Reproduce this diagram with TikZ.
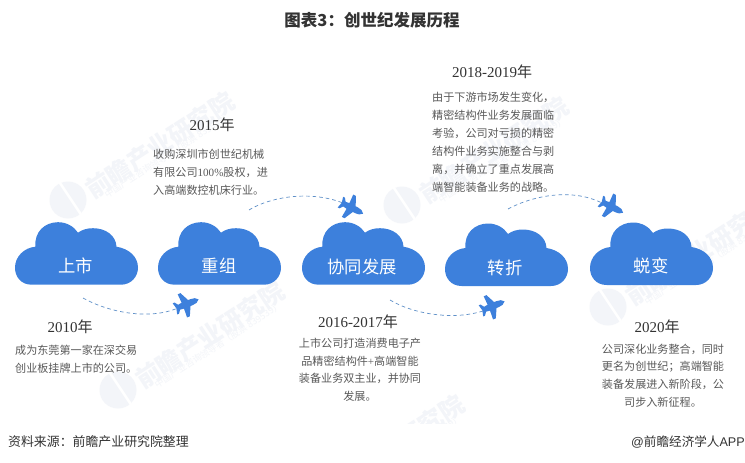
\documentclass[tikz,border=0pt]{standalone}
\usepackage{fontspec}
\setmainfont{Noto Sans CJK SC}
\newfontfamily\latf{Liberation Serif}
\newfontfamily\arialf{Liberation Sans}
\definecolor{cloudblue}{HTML}{3D80DC}
\definecolor{dashblue}{HTML}{5F90C8}
\definecolor{wm}{HTML}{F3F5F9}
\definecolor{bodygray}{HTML}{595959}
\definecolor{yeargray}{HTML}{333333}
\tikzset{
  cloudfill/.style={fill=cloudblue,draw=none},
  cloudlabel/.style={text=white,inner sep=0pt,font=\fontsize{17.3}{20}\selectfont},
  yearlabel/.style={text=yeargray,inner sep=0pt,font=\fontsize{15}{18}\selectfont},
  bodytext/.style={text=bodygray,inner sep=0pt,font=\fontsize{11.1}{17.9}\selectfont},
  flight/.style={draw=dashblue,line width=0.7pt,dash pattern=on 3.6pt off 3pt},
  planefill/.style={fill=cloudblue,draw=none},
  pics/cloudshape/.style={code={
    \fill[cloudfill] (16.7,0) .. controls (6,0) and (0,-8) .. (0,-17)
      .. controls (0,-28) and (9,-37) .. (20.5,-38)
      .. controls (19,-53) and (30,-62.5) .. (43,-62.5)
      .. controls (52,-62.5) and (59,-58) .. (63,-52)
      .. controls (67,-55) and (72,-56.5) .. (78,-56.5)
      .. controls (91,-56.5) and (101,-49) .. (101.5,-38)
      .. controls (114,-36) and (123,-28) .. (123,-17)
      .. controls (123,-8) and (116,0) .. (106,0) -- cycle;
  }},
  pics/planeshape/.style={code={
    \fill[planefill] (12.5,0) .. controls (11,-2.4) and (8,-3.2) .. (5,-3.2)
      -- (2.5,-3.2) -- (-2,-12.5) -- (-5,-12.5) -- (-4.5,-3.2) -- (-8.5,-2.6) -- (-11,-6) -- (-13,-6)
      -- (-11.5,0) -- (-13,6) -- (-11,6) -- (-8.5,2.6) -- (-4.5,3.2) -- (-5,12.5) -- (-2,12.5) -- (2.5,3.2)
      -- (5,3.2) .. controls (8,3.2) and (11,2.4) .. (12.5,0) -- cycle;
  }},
  pics/watermark/.style={code={
    \fill[wm] (0,0) circle[radius=18.5];
    \draw[white,line width=2.5pt] (-10,-20) .. controls (-2,-8) and (6,4) .. (14,16);
    \node[rotate=33,text=wm,inner sep=0pt,font=\fontsize{24.5}{26}\bfseries\selectfont] at (92,-55) {前瞻产业研究院};
    \node[rotate=33,text=wm,inner sep=0pt,font=\fontsize{9}{10}\selectfont] at (100,-45) {中国产业咨询领导者（股票 839539）};
  }}
}
\begin{document}
\begin{tikzpicture}[x=1pt,y=-1pt]
\useasboundingbox (0,0) rectangle (745,463);
\fill[white] (0,0) rectangle (745,463);
% watermarks
\begin{scope}
\clip (0,35) rectangle (745,423);
\pic at (68,200) {watermark};
\pic at (118,390) {watermark};
\pic at (402,205) {watermark};
\pic at (608,307) {watermark};
\pic at (298,503) {watermark};
\end{scope}
% title
\node[name=title,text=yeargray,inner sep=0pt,font=\fontsize{16.5}{20}\bfseries\selectfont] at (372,20) {图表3：创世纪发展历程};
% clouds
\pic at (15,284.7) {cloudshape};
\pic at (158,284.7) {cloudshape};
\pic at (302,284.7) {cloudshape};
\pic at (445,286) {cloudshape};
\pic at (590,285) {cloudshape};
\node[cloudlabel] (c1) at (76,266) {上市};
\node[cloudlabel] (c2) at (219,266) {重组};
\node[cloudlabel] (c3) at (362,267) {协同发展};
\node[cloudlabel] (c4) at (505,268) {转折};
\node[cloudlabel] (c5) at (651,266) {蜕变};
% years
\node[yearlabel] (y1) at (70,327) {{\latf 2010}年};
\node[yearlabel] (y2) at (212,125) {{\latf 2015}年};
\node[yearlabel] (y3) at (358,322) {{\latf 2016-2017}年};
\node[yearlabel] (y4) at (492,72) {{\latf 2018-2019}年};
\node[yearlabel] (y5) at (657,327) {{\latf 2020}年};
% bodies
\node[bodytext,anchor=north west,align=left] (b1) at (15,344.5) {成为东莞第一家在深交易\\创业板挂牌上市的公司。};
\node[bodytext,anchor=north west,align=left] (b2) at (153,149) {收购深圳市创世纪机械\\有限公司{\latf 100\%}股权，进\\入高端数控机床行业。};
\node[bodytext,anchor=north,align=center] (b3) at (360,337.5) {上市公司打造消费电子产\\品精密结构件{\latf +}高端智能\\装备业务双主业，并协同\\发展。};
\node[bodytext,anchor=north west,align=left] (b4) at (432,92) {由于下游市场发生变化，\\精密结构件业务发展面临\\考验，公司对亏损的精密\\结构件业务实施整合与剥\\离，并确立了重点发展高\\端智能装备业务的战略。};
\node[bodytext,anchor=north,align=center] (b5) at (663,343.5) {公司深化业务整合，同时\\更名为创世纪；高端智能\\装备发展进入新阶段，公\\司步入新征程。};
% flights
\coordinate (f1s) at (83,298);
\coordinate (f1e) at (178,308);
\coordinate (f2s) at (249,210);
\coordinate (f2e) at (343,203);
\coordinate (f3s) at (390,300);
\coordinate (f3e) at (483,311);
\coordinate (f4s) at (508,209);
\coordinate (f4e) at (602,203);
\draw[flight] (f1s) .. controls (110,313) and (150,320) .. (f1e);
\draw[flight] (f2s) .. controls (270,197) and (310,190) .. (f2e);
\draw[flight] (f3s) .. controls (415,315) and (455,320) .. (f3e);
\draw[flight] (f4s) .. controls (530,197) and (570,187) .. (f4e);
\pic[rotate=22] at (187,304) {planeshape};
\pic[rotate=-27] at (352,208) {planeshape};
\pic[rotate=22] at (493,306) {planeshape};
\pic[rotate=-27] at (612,207) {planeshape};
% footer
\node[name=src,anchor=west,text=yeargray,inner sep=0pt,font=\fontsize{12.9}{15}\selectfont] at (8,442) {资料来源：前瞻产业研究院整理};
\node[name=brand,anchor=east,text=yeargray,inner sep=0pt,font=\fontsize{12.6}{15}\selectfont] at (745,442) {{\arialf @}前瞻经济学人{\arialf APP}};
\end{tikzpicture}
\end{document}
